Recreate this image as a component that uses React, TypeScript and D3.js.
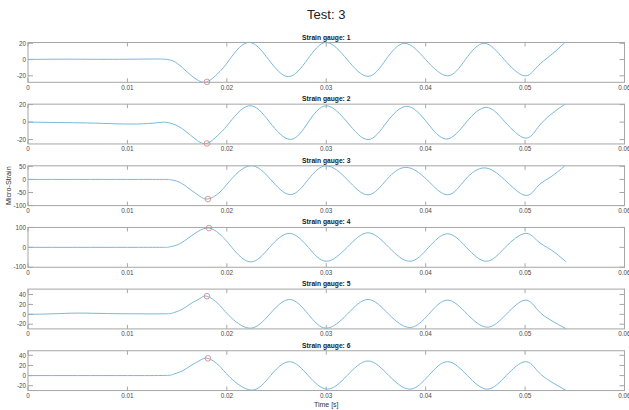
import React, { useEffect, useRef } from 'react';
import * as d3 from 'd3';

// [time (s), micro-strain] for each gauge
const gauge1: [number, number][] = [
  [0, 0.2], [0.004, 0.5], [0.008, 0.3], [0.012, 0.6], [0.0138, 0.4], [0.0148, -3], [0.0158, -13],
  [0.0169, -24], [0.018, -27.5], [0.0191, -17], [0.0201, -3], [0.0221, 21], [0.0242, 0], [0.0262, -21],
  [0.0281, 0], [0.03, 21], [0.0321, 0], [0.0342, -20.7], [0.036, 0], [0.0379, 20], [0.04, 0],
  [0.0422, -20], [0.044, 0], [0.0459, 20], [0.0479, 0], [0.0499, -20], [0.0512, -9], [0.0526, 5.5], [0.054, 21]
];
const gauge2: [number, number][] = [
  [0, 0], [0.003, -0.5], [0.006, -1], [0.009, -2], [0.0115, -2], [0.0132, -0.5], [0.0139, -0.3],
  [0.0148, -3], [0.0158, -10], [0.0169, -20], [0.018, -24.4], [0.0191, -15], [0.0201, -3], [0.0222, 18.6],
  [0.0243, 0], [0.0264, -19.8], [0.0282, 0], [0.03, 18.6], [0.0321, 0], [0.0342, -20], [0.0361, 0],
  [0.0381, 18], [0.0401, 0], [0.0421, -19.4], [0.0441, 0], [0.0461, 16.8], [0.048, 0], [0.05, -18.3],
  [0.0513, -6], [0.0526, 8.8], [0.054, 20.4]
];
const gauge3: [number, number][] = [
  [0, 0], [0.005, 0], [0.01, 0], [0.0135, 0], [0.0143, -1], [0.0152, -10], [0.0162, -35], [0.0172, -62],
  [0.0181, -75], [0.0192, -52], [0.0202, -10], [0.0223, 52], [0.0244, 0], [0.0264, -58], [0.0282, 0],
  [0.03, 52], [0.0321, 0], [0.0342, -59], [0.0361, 0], [0.038, 46], [0.0401, 0], [0.0422, -59],
  [0.044, 0], [0.0459, 44], [0.0479, 0], [0.05, -61], [0.0513, -25], [0.0526, 10], [0.054, 52]
];
const gauge4: [number, number][] = [
  [0, 0], [0.005, 0], [0.01, 0], [0.0135, 0], [0.0141, 1], [0.015, 12], [0.016, 42], [0.0171, 80],
  [0.0182, 97], [0.0192, 70], [0.0203, 12], [0.0223, -73], [0.0243, 0], [0.0263, 70], [0.0282, 0],
  [0.03, -70], [0.0321, 0], [0.0342, 73], [0.0363, 0], [0.0384, -70], [0.0403, 0], [0.0422, 68],
  [0.0441, 0], [0.0461, -70], [0.048, 0], [0.05, 70], [0.0513, 30], [0.0526, -12], [0.0541, -72]
];
const gauge5: [number, number][] = [
  [0, 0], [0.0025, 1], [0.005, 2.5], [0.008, 1.5], [0.011, 1], [0.0138, 1], [0.0146, 3], [0.0155, 10],
  [0.0164, 22], [0.0173, 32], [0.018, 36.7], [0.0191, 22], [0.0202, -2], [0.0223, -28], [0.0243, 0],
  [0.0263, 30], [0.0282, 0], [0.03, -28], [0.0321, 0], [0.0342, 30], [0.0363, 0], [0.0384, -26.7],
  [0.0403, 0], [0.0422, 28.7], [0.0442, 0], [0.0462, -26], [0.0481, 0], [0.05, 28.7], [0.0513, 8],
  [0.0526, -12], [0.0541, -29]
];
const gauge6: [number, number][] = [
  [0, 0], [0.005, 0], [0.01, 0], [0.0138, 0.3], [0.0146, 2.5], [0.0155, 9], [0.0164, 20], [0.0173, 30],
  [0.0181, 34], [0.0192, 20], [0.0203, -3], [0.0225, -28.6], [0.0244, 0], [0.0263, 27.4], [0.0282, 0],
  [0.0301, -26.7], [0.0321, 0], [0.0342, 28.8], [0.0363, 0], [0.0384, -26.7], [0.0403, 0], [0.0422, 27.4],
  [0.0442, 0], [0.0462, -26.7], [0.0481, 0], [0.05, 27.4], [0.0513, 8], [0.0526, -12], [0.0541, -29]
];

// circled extreme of each gauge
const markers: [number, number][] = [
  [0.018, -27.5], [0.018, -24.4], [0.0181, -75], [0.0182, 97], [0.018, 36.7], [0.0181, 34]
];

const yDomains: [number, number][] = [
  [-28, 21], [-25, 20.5], [-100, 52], [-100, 100], [-29.5, 51], [-29.5, 49]
];
const yTicks: number[][] = [
  [-20, 0, 20], [-20, 0, 20], [-100, -50, 0, 50], [-100, 0, 100], [-20, 0, 20, 40], [-20, 0, 20, 40]
];
const xTicks = [0, 0.01, 0.02, 0.03, 0.04, 0.05, 0.06];
const titles = ['Strain gauge: 1', 'Strain gauge: 2', 'Strain gauge: 3', 'Strain gauge: 4', 'Strain gauge: 5', 'Strain gauge: 6'];
const gauges = [gauge1, gauge2, gauge3, gauge4, gauge5, gauge6];

const W = 629, H = 410;
const left = 28, right = 624.5;
const top0 = 42.5, rowStep = 61.65, rowH = 39.8;
const font = 'Liberation Sans, Arial, Helvetica, sans-serif';
const boxColor = '#a6a6a6';
const labelColor = '#4a4a4a';

export default function App() {
  const ref = useRef<SVGSVGElement>(null);

  useEffect(() => {
    const svg = d3.select(ref.current);
    svg.selectAll('*').remove();

    const x = d3.scaleLinear().domain([0, 0.06]).range([left, right]);

    svg.append('text')
      .attr('x', (left + right) / 2).attr('y', 19)
      .attr('text-anchor', 'middle')
      .style('font-family', font).style('font-size', '13px').attr('fill', '#222')
      .text('Test: 3');

    gauges.forEach((data, i) => {
      const top = top0 + i * rowStep;
      const y = d3.scaleLinear().domain(yDomains[i]).range([top + rowH, top]);
      const g = svg.append('g');

      g.append('clipPath').attr('id', 'clip' + i)
        .append('rect').attr('x', left).attr('y', top).attr('width', right - left).attr('height', rowH);

      // box
      g.append('rect')
        .attr('x', left).attr('y', top).attr('width', right - left).attr('height', rowH)
        .attr('fill', 'none').attr('stroke', boxColor).attr('stroke-width', 1);

      // x ticks, inside top and bottom
      xTicks.forEach(t => {
        g.append('line').attr('x1', x(t)).attr('x2', x(t)).attr('y1', top + rowH).attr('y2', top + rowH - 4)
          .attr('stroke', boxColor);
        g.append('line').attr('x1', x(t)).attr('x2', x(t)).attr('y1', top).attr('y2', top + 4)
          .attr('stroke', boxColor);
        g.append('text')
          .attr('x', x(t)).attr('y', top + rowH + 7.5)
          .attr('text-anchor', 'middle')
          .style('font-family', font).style('font-size', '6.3px').attr('fill', labelColor)
          .text(d3.format('~g')(t));
      });

      // y ticks, inside left and right
      yTicks[i].forEach(v => {
        g.append('line').attr('x1', left).attr('x2', left + 5).attr('y1', y(v)).attr('y2', y(v))
          .attr('stroke', boxColor);
        g.append('line').attr('x1', right).attr('x2', right - 5).attr('y1', y(v)).attr('y2', y(v))
          .attr('stroke', boxColor);
        g.append('text')
          .attr('x', left - 2).attr('y', y(v) + 2.2)
          .attr('text-anchor', 'end')
          .style('font-family', font).style('font-size', '6.3px').attr('fill', labelColor)
          .text(v);
      });

      g.append('text')
        .attr('x', (left + right) / 2).attr('y', top - 3)
        .attr('text-anchor', 'middle')
        .style('font-family', font).style('font-size', '6.7px').style('font-weight', 'bold').attr('fill', '#1a1a1a')
        .text(titles[i]);

      // natural spline keeps the oscillation round like the recorded signal
      const line = d3.line<[number, number]>()
        .x(d => x(d[0]))
        .y(d => y(d[1]))
        .curve(d3.curveNatural);

      g.append('path')
        .attr('d', line(data))
        .attr('clip-path', 'url(#clip' + i + ')')
        .attr('fill', 'none').attr('stroke', '#7ab8da').attr('stroke-width', 1);

      g.append('circle')
        .attr('cx', x(markers[i][0])).attr('cy', y(markers[i][1])).attr('r', 2.8)
        .attr('fill', 'none').attr('stroke', '#e07a7a').attr('stroke-width', 0.8);
    });

    svg.append('text')
      .attr('transform', 'translate(11,' + (top0 + 2 * rowStep + rowH / 2) + ') rotate(-90)')
      .attr('text-anchor', 'middle')
      .style('font-family', font).style('font-size', '7.2px').attr('fill', '#333')
      .text('Micro-Strain');

    svg.append('text')
      .attr('x', (left + right) / 2).attr('y', 407)
      .attr('text-anchor', 'middle')
      .style('font-family', font).style('font-size', '7px').attr('fill', '#333')
      .text('Time [s]');
  }, []);

  return (
    <svg ref={ref} width={W} height={H}
      style={{ position: 'absolute', left: 0, top: 0, background: '#fff' }} />
  );
}
